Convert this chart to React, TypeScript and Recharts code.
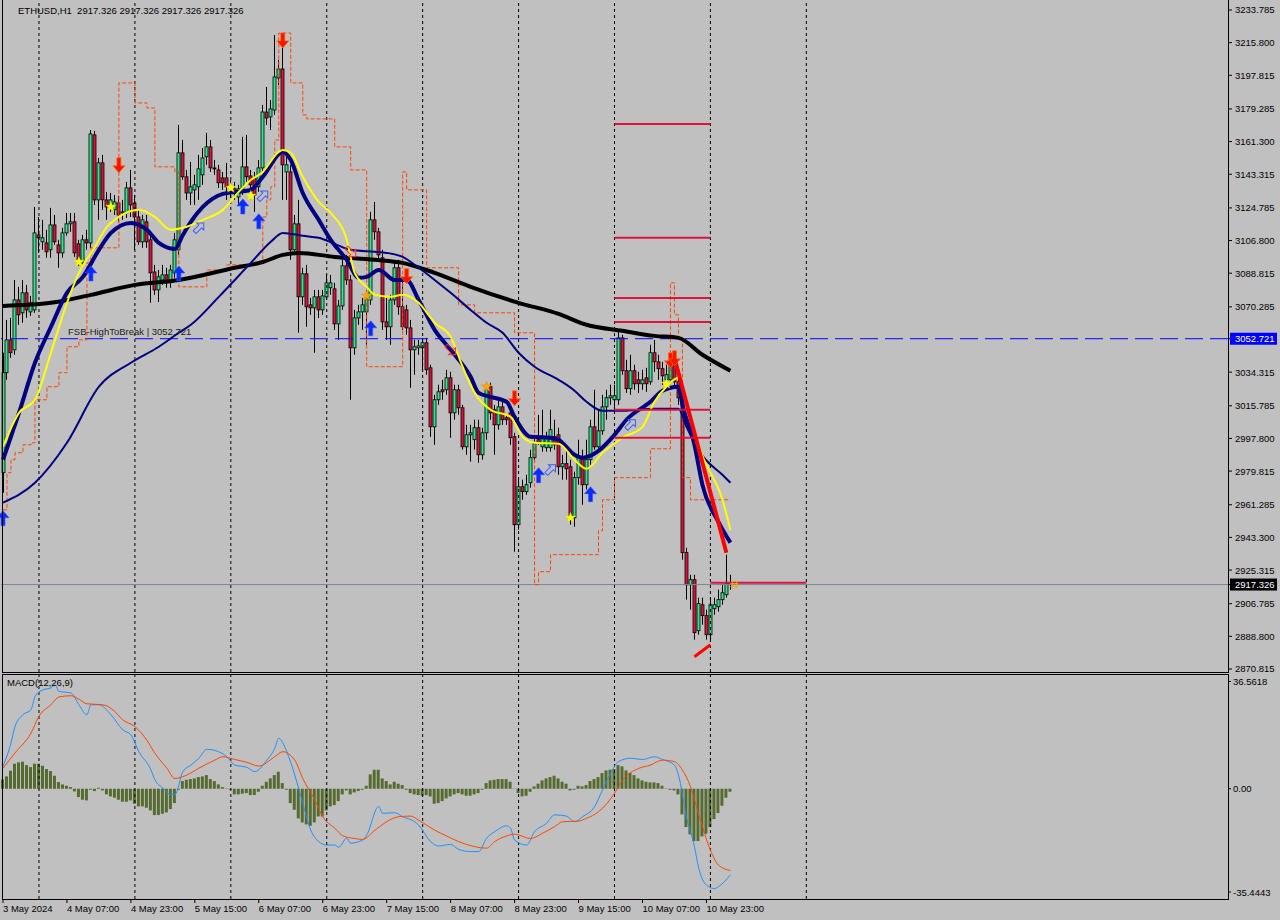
import React from 'react';
import { ComposedChart, Bar, Line, XAxis, YAxis, ReferenceLine } from 'recharts';

type Pt = [number, number];

const FONT = '"Liberation Sans", Arial, sans-serif';
const SLOTS = 307;

// ---------- candles (H1, bar 0 = 3 May 15:00) ----------
const opens = [
  2978.9, 3034.0, 3052.1, 3046.6, 3074.1, 3067.0, 3078.0, 3067.5, 3068.6, 3109.9,
  3106.1, 3105.5, 3101.7, 3115.4, 3104.4, 3100.0, 3111.0, 3116.0, 3117.1, 3105.0,
  3094.5, 3107.2, 3105.5, 3165.0, 3129.2, 3149.6, 3129.2, 3126.4, 3123.7, 3127.5,
  3122.0, 3122.0, 3135.8, 3127.5, 3119.8, 3106.1, 3117.1, 3107.2, 3089.5, 3079.6,
  3085.1, 3087.9, 3084.0, 3089.0, 3101.7, 3155.1, 3141.9, 3133.0, 3134.7, 3136.4,
  3143.0, 3152.9, 3158.4, 3146.8, 3145.7, 3141.3, 3141.3, 3133.6, 3135.3, 3130.8,
  3134.7, 3147.4, 3142.4, 3141.3, 3136.4, 3146.8, 3177.6, 3174.9, 3178.7, 3196.4,
  3201.3, 3144.6, 3144.6, 3101.7, 3116.0, 3075.8, 3088.5, 3071.4, 3069.7, 3075.8,
  3068.6, 3075.8, 3080.8, 3080.2, 3060.9, 3070.8, 3092.9, 3085.1, 3047.7, 3064.2,
  3067.5, 3067.5, 3074.1, 3118.2, 3111.6, 3097.3, 3062.0, 3059.3, 3074.1, 3091.8,
  3070.3, 3068.6, 3058.7, 3046.6, 3047.7, 3047.7, 3050.5, 3036.7, 3004.2, 3019.1,
  3024.6, 3024.6, 3031.2, 3011.9, 3024.6, 3014.7, 2993.2, 2999.8, 2997.1, 3003.7,
  2988.8, 3000.9, 3026.3, 3013.6, 3005.3, 3015.2, 3009.2, 3011.9, 2998.7, 2950.3,
  2971.2, 2968.5, 2973.4, 2987.2, 2997.1, 2993.2, 2992.7, 2992.7, 2998.7, 2999.8,
  2982.2, 2983.9, 2982.2, 2954.1, 2976.2, 2987.2, 2972.3, 2986.1, 3004.2, 2993.2,
  3002.0, 3015.2, 3020.2, 3019.1, 3019.1, 3053.2, 3035.1, 3025.2, 3035.1, 3030.1,
  3027.9, 3031.2, 3029.0, 3045.0, 3040.0, 3036.2, 3030.1, 3030.1, 3040.0, 3029.0,
  3020.2, 2934.9, 2917.2, 2920.0, 2891.9, 2906.2, 2900.2, 2889.7, 2904.0, 2905.1,
  2909.0, 2911.7, 2917.8,
];
const highs = [
  3045.0, 3063.1, 3064.2, 3085.1, 3081.3, 3085.1, 3082.4, 3076.3, 3125.3, 3119.8,
  3118.2, 3112.7, 3124.8, 3120.9, 3107.2, 3113.8, 3122.0, 3122.0, 3122.0, 3107.2,
  3109.9, 3112.7, 3167.7, 3167.2, 3152.3, 3154.0, 3133.6, 3133.0, 3131.9, 3131.4,
  3129.2, 3139.1, 3145.7, 3131.9, 3123.7, 3120.9, 3120.9, 3109.9, 3093.4, 3090.6,
  3093.4, 3091.8, 3093.4, 3111.0, 3170.5, 3162.2, 3145.7, 3150.1, 3143.0, 3154.0,
  3157.8, 3166.1, 3162.2, 3151.2, 3148.5, 3144.6, 3149.6, 3140.2, 3139.1, 3137.5,
  3163.9, 3165.0, 3145.7, 3144.6, 3151.2, 3181.5, 3191.4, 3184.2, 3220.0, 3206.3,
  3218.4, 3156.7, 3148.5, 3120.9, 3129.2, 3091.8, 3093.4, 3075.2, 3079.6, 3079.6,
  3079.6, 3087.9, 3087.9, 3083.5, 3074.1, 3096.2, 3098.9, 3087.9, 3068.6, 3071.4,
  3075.2, 3079.6, 3122.6, 3128.1, 3113.8, 3101.7, 3075.2, 3076.9, 3095.0, 3096.2,
  3085.1, 3071.4, 3063.1, 3052.1, 3052.1, 3053.2, 3053.2, 3038.4, 3021.8, 3027.4,
  3030.1, 3035.6, 3034.5, 3027.4, 3027.4, 3016.3, 3005.3, 3005.3, 3008.1, 3008.1,
  3003.7, 3028.5, 3028.5, 3016.3, 3019.1, 3019.1, 3010.8, 3014.7, 3000.9, 2975.1,
  2975.1, 2977.8, 2991.6, 2999.8, 3010.8, 3013.6, 3001.5, 3013.6, 3008.1, 3003.7,
  2988.8, 2991.6, 2986.1, 2979.5, 2997.1, 2991.6, 2997.1, 3008.1, 3024.6, 3013.6,
  3021.8, 3024.6, 3027.4, 3027.4, 3057.6, 3054.9, 3041.1, 3043.9, 3038.4, 3034.5,
  3035.6, 3036.7, 3049.4, 3052.1, 3043.9, 3040.0, 3038.4, 3041.1, 3043.9, 3032.9,
  3021.8, 2937.6, 2922.7, 2922.7, 2910.1, 2910.1, 2903.5, 2910.1, 2910.1, 2914.5,
  2917.2, 2933.8, 2922.7,
];
const lows = [
  2967.9, 3030.1, 3042.2, 3043.9, 3060.4, 3061.5, 3064.2, 3065.3, 3067.0, 3100.0,
  3101.7, 3097.3, 3097.3, 3104.4, 3091.8, 3097.3, 3109.4, 3111.6, 3097.8, 3092.9,
  3093.4, 3101.7, 3102.8, 3126.4, 3118.2, 3123.7, 3118.2, 3122.6, 3120.9, 3117.1,
  3118.2, 3119.3, 3119.8, 3101.7, 3104.4, 3102.8, 3102.8, 3072.5, 3076.9, 3073.0,
  3082.4, 3080.8, 3080.8, 3086.3, 3098.9, 3140.2, 3129.2, 3126.4, 3126.4, 3129.2,
  3137.5, 3148.5, 3144.6, 3143.0, 3135.8, 3134.7, 3129.2, 3130.3, 3129.2, 3126.4,
  3131.9, 3139.1, 3133.6, 3122.6, 3133.6, 3144.6, 3170.5, 3167.7, 3176.0, 3192.5,
  3129.2, 3129.2, 3096.2, 3098.9, 3056.0, 3071.4, 3059.3, 3065.9, 3045.0, 3064.2,
  3065.9, 3074.1, 3076.9, 3057.6, 3052.1, 3068.6, 3082.4, 3019.1, 3043.9, 3060.4,
  3057.6, 3049.4, 3071.4, 3107.2, 3095.0, 3057.6, 3052.1, 3049.4, 3071.4, 3065.9,
  3057.6, 3054.9, 3025.7, 3032.9, 3043.9, 3035.6, 3032.9, 2998.7, 2994.3, 3016.3,
  3019.1, 3021.8, 2998.2, 3008.1, 3010.8, 2991.6, 2988.8, 2985.0, 2991.6, 2984.4,
  2986.1, 2997.1, 3008.1, 2988.8, 3002.6, 3005.3, 3005.3, 2994.3, 2935.4, 2947.5,
  2964.0, 2966.8, 2970.7, 2985.0, 2994.3, 2990.5, 2990.5, 2990.5, 2991.6, 2977.8,
  2975.1, 2975.1, 2950.3, 2949.2, 2972.3, 2961.3, 2969.6, 2983.3, 2991.6, 2990.5,
  2999.8, 3008.1, 3016.3, 3013.6, 3016.3, 3032.9, 3022.9, 3021.8, 3024.6, 3022.9,
  3024.6, 3023.5, 3027.4, 3034.5, 3030.1, 3027.4, 3027.4, 3028.5, 3025.7, 3016.3,
  2931.0, 2909.0, 2903.5, 2887.0, 2889.7, 2895.2, 2887.0, 2887.0, 2900.7, 2902.4,
  2906.2, 2910.1, 2914.5,
];
const closes = [
  3034.0, 3052.1, 3045.0, 3074.1, 3065.9, 3078.0, 3068.6, 3072.5, 3111.0, 3108.3,
  3108.3, 3100.6, 3115.4, 3106.1, 3100.0, 3111.0, 3116.0, 3117.1, 3100.0, 3095.0,
  3107.2, 3105.5, 3165.5, 3129.2, 3149.6, 3129.2, 3125.3, 3129.2, 3128.1, 3120.9,
  3122.6, 3135.8, 3126.4, 3119.8, 3106.1, 3118.2, 3106.1, 3089.0, 3079.6, 3086.8,
  3087.9, 3083.5, 3090.6, 3107.2, 3155.1, 3141.9, 3133.0, 3136.4, 3137.5, 3146.3,
  3152.3, 3158.4, 3146.8, 3146.3, 3138.6, 3138.6, 3136.4, 3135.8, 3133.0, 3135.3,
  3147.4, 3141.9, 3137.5, 3131.9, 3146.8, 3177.6, 3174.3, 3179.3, 3196.9, 3201.3,
  3148.5, 3148.5, 3101.7, 3116.0, 3075.8, 3088.5, 3070.3, 3069.7, 3075.8, 3068.6,
  3076.3, 3083.5, 3083.5, 3060.9, 3070.8, 3092.9, 3085.1, 3047.7, 3064.2, 3067.5,
  3071.4, 3075.2, 3118.2, 3111.6, 3098.9, 3062.0, 3059.3, 3074.1, 3091.8, 3070.3,
  3059.3, 3058.7, 3046.6, 3048.3, 3048.8, 3050.5, 3035.6, 3004.2, 3019.1, 3023.5,
  3023.5, 3031.2, 3011.9, 3024.6, 3014.7, 2993.2, 2999.8, 3000.9, 3003.7, 2988.8,
  3000.9, 3025.7, 3011.9, 3005.3, 3015.2, 3008.1, 3008.1, 2998.2, 2950.3, 2971.2,
  2968.5, 2972.3, 2987.2, 2995.4, 2995.4, 2998.7, 2998.2, 3002.6, 2994.3, 2982.2,
  2983.9, 2981.1, 2954.1, 2976.2, 2987.2, 2972.3, 2986.1, 3004.2, 2993.2, 3002.0,
  3015.2, 3020.2, 3021.3, 3021.3, 3053.2, 3035.1, 3025.2, 3035.1, 3027.9, 3027.9,
  3030.1, 3027.9, 3045.0, 3040.0, 3036.2, 3032.3, 3032.9, 3037.3, 3029.0, 3020.2,
  2934.9, 2917.2, 2920.0, 2890.8, 2906.8, 2900.2, 2889.7, 2906.2, 2906.2, 2909.0,
  2912.8, 2917.8, 2917.326,
];

// ---------- moving averages read at sample bars [bar, price] ----------
const slowBlackMa: Pt[] = [
  [0, 3070.8], [12, 3072.5], [22, 3076.9], [33, 3082.4], [44, 3085.1], [58, 3091.8], [65, 3095.0],
  [70, 3098.9], [74, 3100.0], [83, 3097.8], [93, 3096.2], [100, 3094.5], [108, 3089.0], [117, 3081.3],
  [129, 3072.5], [139, 3066.4], [146, 3060.4], [155, 3057.1], [163, 3054.3], [169, 3053.2],
  [175, 3043.9], [182, 3035.1],
];
const fastNavyMa: Pt[] = [
  [0, 2986.1], [4, 3011.9], [8, 3039.5], [12, 3059.3], [16, 3078.0], [20, 3086.8], [24, 3101.7],
  [27, 3111.0], [32, 3116.5], [36, 3112.7], [39, 3105.5], [43, 3102.2], [45, 3109.9], [47, 3117.1],
  [50, 3125.3], [55, 3132.5], [62, 3134.7], [65, 3141.9], [70, 3155.6], [72, 3151.2], [75, 3133.0],
  [79, 3118.2], [82, 3107.2], [86, 3096.2], [89, 3086.3], [91, 3086.8], [94, 3090.6], [98, 3085.1],
  [101, 3085.1], [104, 3074.1], [108, 3057.6], [112, 3046.6], [117, 3031.8], [119, 3022.9],
  [122, 3020.7], [126, 3018.0], [128, 3009.7], [132, 2998.7], [137, 2998.2], [139, 2997.1],
  [143, 2988.8], [145, 2987.2], [149, 2991.0], [153, 2999.8], [156, 3008.1], [162, 3018.0],
  [165, 3024.1], [169, 3026.3], [170, 3016.3], [173, 2994.3], [175, 2972.3], [179, 2951.9],
  [182, 2940.4],
];
const midNavyMa: Pt[] = [
  [0, 2962.4], [8, 2973.4], [16, 2995.4], [24, 3026.3], [32, 3039.5], [39, 3048.3], [44, 3056.0],
  [47, 3060.4], [54, 3075.8], [62, 3094.5], [67, 3106.1], [70, 3111.0], [75, 3109.4], [79, 3108.3],
  [83, 3105.0], [87, 3101.7], [93, 3100.6], [96, 3100.0], [100, 3097.8], [104, 3091.8], [108, 3085.1],
  [112, 3078.0], [117, 3068.6], [121, 3061.5], [125, 3056.0], [129, 3045.0], [133, 3037.3],
  [139, 3030.1], [143, 3024.1], [146, 3018.0], [150, 3013.0], [155, 3013.0], [163, 3014.1],
  [169, 3014.1], [171, 3004.2], [175, 2988.3], [180, 2977.8], [182, 2973.4],
];
const yellowMa: Pt[] = [
  [0, 2993.2], [4, 3011.9], [8, 3019.1], [12, 3045.0], [16, 3072.5], [19, 3089.0], [23, 3103.3],
  [26, 3114.3], [29, 3119.8], [34, 3123.7], [38, 3119.8], [42, 3112.7], [45, 3113.8], [50, 3118.2],
  [55, 3123.7], [59, 3133.6], [62, 3140.2], [65, 3144.6], [69, 3155.6], [70, 3156.7], [72, 3155.1],
  [75, 3141.9], [79, 3128.1], [82, 3122.0], [86, 3107.2], [88, 3089.0], [91, 3081.3], [93, 3076.9],
  [97, 3075.8], [100, 3076.9], [104, 3072.5], [108, 3061.5], [112, 3053.8], [115, 3037.3],
  [118, 3022.9], [122, 3013.6], [127, 3009.7], [130, 2998.7], [133, 2995.4], [139, 2994.9],
  [143, 2986.1], [146, 2981.1], [150, 2989.9], [155, 2998.2], [160, 3004.2], [163, 3018.0],
  [166, 3026.3], [169, 3031.2], [171, 3016.3], [175, 2988.3], [180, 2964.0], [182, 2947.5],
];
// trailing stop (dashed step line): value from this bar on
const trailingStop: Pt[] = [
  [0, 2958.5], [1, 2978.9], [2, 2986.1], [3, 2989.9], [5, 2994.3], [7, 2995.4], [8, 3019.1],
  [11, 3026.3], [14, 3034.0], [16, 3048.3], [19, 3052.1], [21, 3094.5], [22, 3102.8], [29, 3193.6],
  [33, 3182.6], [36, 3179.8], [38, 3147.4], [43, 3144.6], [44, 3081.3], [51, 3090.6], [56, 3093.4],
  [64, 3094.5], [65, 3119.8], [66, 3129.2], [67, 3136.4], [68, 3162.2], [69, 3221.1], [72, 3193.6],
  [75, 3176.0], [76, 3173.8], [83, 3158.4], [87, 3145.7], [91, 3037.3], [100, 3144.6], [101, 3134.7],
  [106, 3091.8], [114, 3071.4], [118, 3067.0], [128, 3056.0], [133, 2917.2], [134, 2924.4],
  [137, 2933.8], [149, 2947.0], [150, 2964.0], [153, 2976.2], [162, 2992.1], [167, 3083.5],
  [168, 3065.9], [169, 3053.2], [170, 2976.2], [172, 2964.0], [182, 2964.0],
];

// ---------- signal markers [bar, price] ----------
const redDownArrows: Pt[] = [[29, 3147.4], [70, 3216.2], [101, 3086.3], [128, 3019.1], [167, 3040.0], [168, 3041.1]];
const blueUpArrows: Pt[] = [[0, 2954.7], [22, 3089.5], [44, 3089.5], [60, 3126.4], [64, 3118.2], [92, 3059.3], [134, 2978.4], [147, 2967.9]];
const yellowStars: Pt[] = [[19, 3095.0], [27, 3125.3], [57, 3135.8], [62, 3131.4], [142, 2954.1], [166, 3027.9]];
const orangeStars: Pt[] = [[91, 3076.3], [121, 3026.3]];
const hollowBlueArrows: Pt[] = [[49, 3113.8], [65, 3131.4], [137, 2980.6], [157, 3005.4]];
const hollowRedArrows: Pt[] = [[87, 3100.6], [112, 3046.6]];
const orangeMarks: Pt[] = [[183, 2917.3]];

// ---------- horizontal levels / lines ----------
const highToBreak = 3052.721;
const lastPrice = 2917.326;
const breakoutLevels = [3171.0, 3108.3, 3075.2, 3062.0, 3013.6, 2998.2];
const levelFromBar = 153;
const levelToBar = 177;
const targetLevel = 2918.3;
const targetToBar = 201;
const trendStart: Pt = [168, 3042.2];
const trendEnd: Pt = [181, 2934.9];
const lowStart: Pt = [173, 2877.6];
const lowEnd: Pt = [177, 2884.2];
const daySeparators = [9, 33, 57, 81, 105, 129, 153, 177, 201];

// ---------- axis ticks ----------
const priceTicks = [
  3233.785, 3215.8, 3197.815, 3179.285, 3161.3, 3143.315, 3124.785, 3106.8, 3088.815, 3070.285,
  3052.721, 3034.315, 3015.785, 2997.8, 2979.815, 2961.285, 2943.3, 2925.315, 2917.326, 2906.785,
  2888.8, 2870.815,
];
const priceDomain = [2869.16, 3237.64];
const macdTicks = [36.5618, 0, -35.4443];
const macdDomain = [-35.4443, 36.5618];
const xTickBars = [0, 16, 32, 48, 64, 80, 96, 112, 128, 144, 160, 176];
const xTickLabels = [
  '3 May 2024', '4 May 07:00', '4 May 23:00', '5 May 15:00', '6 May 07:00', '6 May 23:00',
  '7 May 15:00', '8 May 07:00', '8 May 23:00', '9 May 15:00', '10 May 07:00', '10 May 23:00',
];

// ---------- MACD(12,26,9) ----------
const macdHist = [
  3.0,
  3.97, 5.79, 8.04, 8.47, 8.68, 7.61, 6.97, 8.04, 8.04, 7.40,
  6.32, 5.68, 4.18, 2.14, 1.39, 0.96, 0.54, -0.86, -2.68, -3.54,
  -3.75, -0.32, -0.75, 0.32, -0.54, -1.82, -2.47, -2.89, -3.54, -4.18,
  -4.18, -3.75, -4.82, -5.68, -5.68, -6.11, -6.97, -8.47, -8.47, -8.04,
  -7.61, -6.54, -4.61, -0.32, 2.47, 2.89, 3.11, 3.32, 3.75, 3.97,
  4.39, 3.11, 2.47, 1.39, 0.54, 0.11, -0.32, -1.82, -1.82, -1.61,
  -1.39, -2.04, -2.04, -0.96, 0.96, 2.25, 3.32, 4.39, 5.47, 1.82,
  -0.32, -4.61, -6.75, -9.54, -10.83, -11.47, -11.9, -10.83, -8.9, -8.9,
  -6.97, -5.68, -5.25, -3.97, -1.82, -0.54, -1.82, -1.18, -0.75, -0.32,
  0.96, 4.61, 6.11, 6.11, 3.32, 2.47, 1.39, 2.25, 1.61, 1.18,
  -0.32, -1.39, -1.82, -2.04,
  -2.25, -2.04, -2.47, -4.82, -4.61, -3.97, -3.11, -2.47, -1.82, -1.39,
  -1.82, -2.25, -2.25, -1.82, -1.39, -0.32, 1.82, 2.68, 2.89, 3.11,
  3.11, 3.11, 2.25, -0.11, -1.39, -2.47, -2.25, -0.96, 0.75, 1.61,
  2.68, 3.32, 3.75, 4.18, 3.32, 2.25, 1.61, -0.54, -0.32, 0.96,
  0.75, 1.18, 2.47, 3.11, 3.75, 5.04, 5.89, 6.11, 6.32, 7.61,
  7.18, 5.89, 5.04, 4.39, 3.32, 2.68, 2.25, 2.04, 2.04, 1.82,
  0.96, 0.11, -0.32, -0.54, -1.82, -8.25, -12.33, -14.68, -16.83, -16.83,
  -15.33, -14.47, -12.33, -9.75, -7.82, -5.47, -2.89, -0.96,
];
const macdLine: Pt[] = [
  [0, 7.2], [2, 14.7], [3, 20.0], [5, 23.8], [7, 25.4], [8, 29.6], [10, 31.8], [12, 32.4], [13, 33.4],
  [14, 31.3], [17, 30.8], [19, 27.0], [21, 23.8], [22, 27.0], [24, 27.0], [27, 23.8], [30, 18.9],
  [32, 17.3], [34, 11.9], [37, 6.1], [38, 2.9], [40, 0.2], [42, -1.9], [43, -1.9], [45, 5.5], [47, 7.6],
  [49, 9.8], [51, 12.7], [53, 12.3], [56, 10.3], [58, 7.6], [61, 6.9], [63, 5.5], [66, 9.2], [68, 13.0],
  [69, 16.2], [71, 11.9], [73, 4.4], [75, -4.7], [77, -13.3], [79, -17.0], [81, -18.1], [83, -18.1],
  [84, -18.8], [86, -15.9], [87, -17.5], [90, -16.5], [91, -14.9], [94, -5.7], [95, -7.9], [98, -7.7],
  [100, -9.0], [103, -10.6], [104, -11.7], [107, -17.0], [109, -18.4], [112, -17.9], [114, -19.5],
  [117, -20.2], [119, -20.2], [121, -15.9], [123, -13.8], [126, -11.9], [127, -12.7], [128, -16.5],
  [131, -18.1], [133, -13.8], [136, -11.1], [138, -8.4], [141, -8.8], [143, -10.6], [145, -9.0],
  [148, -5.8], [150, -0.4], [152, 4.9], [154, 8.7], [157, 9.8], [160, 9.4], [163, 10.3], [165, 9.4],
  [168, 7.6], [169, 4.4], [171, -9.0], [173, -18.6], [174, -25.1], [176, -31.0], [178, -32.1],
  [179, -31.5], [182, -27.7],
];
const signalLine: Pt[] = [
  [0, 6.6], [3, 11.5], [7, 17.9], [9, 23.3], [12, 27.0], [14, 29.5], [17, 29.9], [19, 28.8], [21, 27.3],
  [25, 27.0], [28, 24.8], [30, 22.1], [33, 20.0], [36, 15.6], [38, 11.4], [41, 6.6], [43, 3.3], [46, 4.4],
  [49, 6.6], [53, 9.2], [55, 10.3], [58, 9.4], [61, 8.5], [64, 7.3], [68, 10.3], [70, 11.9], [73, 9.2],
  [75, 3.3], [78, -3.6], [80, -9.0], [83, -12.7], [85, -15.1], [88, -16.0], [90, -16.3], [93, -13.4],
  [96, -10.6], [99, -9.0], [102, -8.8], [104, -10.1], [108, -13.3], [111, -15.2], [114, -17.0],
  [118, -18.6], [121, -19.1], [123, -17.0], [126, -15.2], [128, -14.6], [132, -16.0], [135, -14.3],
  [138, -12.2], [140, -10.6], [144, -10.4], [146, -9.5], [149, -7.4], [153, -1.5], [155, 2.8],
  [159, 6.5], [162, 7.6], [165, 9.2], [168, 8.7], [170, 6.0], [172, 0.7], [174, -7.9], [177, -19.7],
  [179, -24.5], [182, -26.3],
];

// ---------- tables ----------
const toMap = (pts: Pt[]) => new Map<number, number>(pts);
const mBlack = toMap(slowBlackMa);
const mFast = toMap(fastNavyMa);
const mMid = toMap(midNavyMa);
const mYellow = toMap(yellowMa);
const mStop = toMap(trailingStop);
const mRed = toMap(redDownArrows);
const mBlue = toMap(blueUpArrows);
const mStar = toMap(yellowStars);
const mOStar = toMap(orangeStars);
const mHB = toMap(hollowBlueArrows);
const mHR = toMap(hollowRedArrows);
const mOM = toMap(orangeMarks);
const mMacd = toMap(macdLine);
const mSig = toMap(signalLine);

const mainData = Array.from({ length: SLOTS }, (_, i) => {
  const row: Record<string, any> = { i };
  if (i < closes.length) {
    row.range = [lows[i], highs[i]];
    row.o = opens[i];
    row.h = highs[i];
    row.l = lows[i];
    row.c = closes[i];
  }
  row.black = mBlack.get(i) ?? null;
  row.fast = mFast.get(i) ?? null;
  row.mid = mMid.get(i) ?? null;
  row.yellow = mYellow.get(i) ?? null;
  row.stop = mStop.get(i) ?? null;
  row.redDown = mRed.get(i) ?? null;
  row.blueUp = mBlue.get(i) ?? null;
  row.star = mStar.get(i) ?? null;
  row.ostar = mOStar.get(i) ?? null;
  row.hblue = mHB.get(i) ?? null;
  row.hred = mHR.get(i) ?? null;
  row.omark = mOM.get(i) ?? null;
  return row;
});

const macdData = Array.from({ length: SLOTS }, (_, i) => ({
  i,
  hist: i < macdHist.length ? macdHist[i] : null,
  macd: mMacd.get(i) ?? null,
  signal: mSig.get(i) ?? null,
}));

// ---------- shapes ----------
const Candle = (props: any) => {
  const { x, y, width, height, payload } = props;
  if (!payload || payload.o == null || y == null || height == null || isNaN(y)) return <g />;
  const top = Math.min(y, y + height);
  const bot = Math.max(y, y + height);
  const span = payload.h - payload.l;
  const k = span > 0 ? (bot - top) / span : 0;
  const yO = top + (payload.h - payload.o) * k;
  const yC = top + (payload.h - payload.c) * k;
  const cx = Math.round(x + width / 2) + 0.5;
  const bull = payload.c >= payload.o;
  const bTop = Math.min(yO, yC);
  const bH = Math.max(1, Math.abs(yC - yO));
  return (
    <g>
      <line x1={cx} x2={cx} y1={top} y2={bot} stroke="#000" strokeWidth={1} />
      <rect x={cx - 1.5} y={bTop} width={3} height={bH} fill={bull ? '#2ee58a' : '#dc143c'} stroke="#000" strokeWidth={0.8} />
    </g>
  );
};

const starPath = (cx: number, cy: number, r: number) => {
  let d = '';
  for (let k = 0; k < 10; k++) {
    const rr = k % 2 === 0 ? r : r * 0.42;
    const a = -Math.PI / 2 + (k * Math.PI) / 5;
    d += `${k === 0 ? 'M' : 'L'}${(cx + rr * Math.cos(a)).toFixed(2)},${(cy + rr * Math.sin(a)).toFixed(2)}`;
  }
  return d + 'Z';
};

const makeDot = (kind: string) => (props: any) => {
  const { cx, cy, value, index } = props;
  const key = `${kind}-${index}`;
  if (value == null || cx == null || cy == null || isNaN(cy)) return <g key={key} />;
  if (kind === 'redDown') {
    return (
      <path key={key}
        d={`M${cx - 2},${cy - 9} L${cx + 2},${cy - 9} L${cx + 2},${cy - 1} L${cx + 6},${cy - 1} L${cx},${cy + 6} L${cx - 6},${cy - 1} L${cx - 2},${cy - 1} Z`}
        fill="#ff1000" stroke="#ff6a00" strokeWidth={0.8} />
    );
  }
  if (kind === 'blueUp') {
    return (
      <path key={key}
        d={`M${cx - 2},${cy + 9} L${cx + 2},${cy + 9} L${cx + 2},${cy + 1} L${cx + 6},${cy + 1} L${cx},${cy - 6} L${cx - 6},${cy + 1} L${cx - 2},${cy + 1} Z`}
        fill="#0a2cff" stroke="#3050ff" strokeWidth={0.6} />
    );
  }
  if (kind === 'star') return <path key={key} d={starPath(cx, cy, 5.5)} fill="#ffff00" stroke="#d8d800" strokeWidth={0.4} />;
  if (kind === 'ostar') return <path key={key} d={starPath(cx, cy, 5.5)} fill="#ffa500" stroke="#e08000" strokeWidth={0.4} />;
  if (kind === 'hblue' || kind === 'hred') {
    const rot = kind === 'hblue' ? 45 : 135;
    return (
      <polygon key={key} transform={`translate(${cx},${cy}) rotate(${rot})`}
        points="0,-7 5,-2 2,-2 2,6 -2,6 -2,-2 -5,-2"
        fill="none" stroke={kind === 'hblue' ? '#3a5cff' : '#ff3030'} strokeWidth={1} />
    );
  }
  if (kind === 'omark') {
    return (
      <g key={key} stroke="#ffa500" strokeWidth={1}>
        <line x1={cx - 2} x2={cx - 2} y1={cy - 4} y2={cy + 4} />
        <line x1={cx + 2} x2={cx + 2} y1={cy - 4} y2={cy + 4} />
        <line x1={cx - 4} x2={cx + 4} y1={cy - 1} y2={cy - 1} />
        <line x1={cx - 4} x2={cx + 4} y1={cy + 2} y2={cy + 2} />
      </g>
    );
  }
  return <g key={key} />;
};

const PriceTick = (props: any) => {
  const { y, payload } = props;
  const v = payload.value as number;
  const label = v.toFixed(3);
  const special = v === highToBreak ? '#0000ff' : v === lastPrice ? '#000000' : null;
  return (
    <g>
      <line x1={1228} x2={1232} y1={y} y2={y} stroke="#000" />
      {special && <rect x={1230} y={y - 6} width={47} height={12} fill={special} />}
      <text x={1235} y={y + 3.5} fontSize={9.5} fontFamily={FONT} fill={special ? '#ffffff' : '#000'}>{label}</text>
    </g>
  );
};

const MacdTick = (props: any) => {
  const { y, payload } = props;
  const v = payload.value as number;
  const label = v === 0 ? '0.00' : String(v);
  const ty = v === macdTicks[0] ? y + 6.5 : v === macdTicks[2] ? y - 7 : y;
  return (
    <g>
      <line x1={1228} x2={1231} y1={ty} y2={ty} stroke="#000" />
      <text x={1233} y={ty + 3.5} fontSize={9.5} fontFamily={FONT} fill="#000">{label}</text>
    </g>
  );
};

const TimeTick = (props: any) => {
  const { x, payload } = props;
  const idx = xTickBars.indexOf(Number(payload.value));
  if (idx < 0) return <g />;
  return (
    <g>
      <line x1={x} x2={x} y1={228} y2={231} stroke="#000" />
      <text x={x} y={240} fontSize={9.5} fontFamily={FONT} fill="#000">{xTickLabels[idx]}</text>
    </g>
  );
};

const textStyle: React.CSSProperties = {
  position: 'absolute', fontFamily: FONT, fontSize: 9.5, lineHeight: '12px', color: '#000', whiteSpace: 'pre',
};

export default function App() {
  return (
    <div style={{ position: 'absolute', left: 0, top: 0, width: 1280, height: 920, background: '#c0c0c0', overflow: 'hidden' }}>
      <div style={{ position: 'absolute', left: 0, top: 0 }}>
        <ComposedChart width={1280} height={675} data={mainData} margin={{ top: 3, right: 0, bottom: 3, left: 1 }}>
          <XAxis dataKey="i" type="category" hide />
          <YAxis orientation="right" type="number" domain={priceDomain} allowDataOverflow ticks={priceTicks}
            interval={0} tick={PriceTick} tickLine={false} axisLine={false} width={52} />
          {daySeparators.map((b) => (
            <ReferenceLine key={`d${b}`} x={b} stroke="#000" strokeDasharray="3 3" strokeWidth={1} />
          ))}
          <ReferenceLine y={lastPrice} stroke="#778899" strokeWidth={1} />
          <ReferenceLine y={highToBreak} stroke="#0000ff" strokeDasharray="18 7" strokeWidth={1} />
          <Line dataKey="stop" type="stepAfter" stroke="#ff4500" strokeWidth={1} strokeDasharray="4 2"
            dot={false} activeDot={false} connectNulls isAnimationActive={false} />
          <Bar dataKey="range" barSize={3} shape={Candle} isAnimationActive={false} />
          <Line dataKey="black" type="monotone" stroke="#000000" strokeWidth={4} dot={false} activeDot={false} connectNulls isAnimationActive={false} />
          <Line dataKey="mid" type="monotone" stroke="#000080" strokeWidth={2} dot={false} activeDot={false} connectNulls isAnimationActive={false} />
          <Line dataKey="fast" type="monotone" stroke="#000080" strokeWidth={4} dot={false} activeDot={false} connectNulls isAnimationActive={false} />
          <Line dataKey="yellow" type="monotone" stroke="#ffff00" strokeWidth={2} dot={false} activeDot={false} connectNulls isAnimationActive={false} />
          {breakoutLevels.map((lv) => (
            <ReferenceLine key={`l${lv}`} segment={[{ x: levelFromBar, y: lv }, { x: levelToBar, y: lv }]} stroke="#dc143c" strokeWidth={2} />
          ))}
          <ReferenceLine segment={[{ x: levelToBar, y: targetLevel }, { x: targetToBar, y: targetLevel }]} stroke="#dc143c" strokeWidth={2} />
          <ReferenceLine segment={[{ x: trendStart[0], y: trendStart[1] }, { x: trendEnd[0], y: trendEnd[1] }]} stroke="#ff0000" strokeWidth={4} />
          <ReferenceLine segment={[{ x: lowStart[0], y: lowStart[1] }, { x: lowEnd[0], y: lowEnd[1] }]} stroke="#ff0000" strokeWidth={3} />
          {['redDown', 'blueUp', 'star', 'ostar', 'hblue', 'hred', 'omark'].map((k) => (
            <Line key={k} dataKey={k} stroke="none" dot={makeDot(k)} activeDot={false} isAnimationActive={false} legendType="none" />
          ))}
        </ComposedChart>
      </div>
      <div style={{ position: 'absolute', left: 0, top: 672 }}>
        <ComposedChart width={1280} height={248} data={macdData} margin={{ top: 3, right: 0, bottom: 0, left: 1 }}>
          <XAxis dataKey="i" type="category" interval={15} tick={TimeTick} tickLine={false} axisLine={false} height={21} />
          <YAxis orientation="right" type="number" domain={macdDomain} allowDataOverflow ticks={macdTicks}
            interval={0} tick={MacdTick} tickLine={false} axisLine={false} width={52} />
          {daySeparators.map((b) => (
            <ReferenceLine key={`m${b}`} x={b} stroke="#000" strokeDasharray="3 3" strokeWidth={1} />
          ))}
          <Bar dataKey="hist" fill="#556b2f" barSize={3} isAnimationActive={false} />
          <Line dataKey="macd" type="monotone" stroke="#1e90ff" strokeWidth={1} dot={false} activeDot={false} connectNulls isAnimationActive={false} />
          <Line dataKey="signal" type="monotone" stroke="#ff4500" strokeWidth={1} dot={false} activeDot={false} connectNulls isAnimationActive={false} />
        </ComposedChart>
      </div>
      <div style={{ position: 'absolute', left: 2, top: -1, width: 1227, height: 674, border: '1px solid #000', boxSizing: 'border-box', pointerEvents: 'none' }} />
      <div style={{ position: 'absolute', left: 2, top: 674, width: 1227, height: 226, border: '1px solid #000', boxSizing: 'border-box', pointerEvents: 'none' }} />
      <div style={{ ...textStyle, left: 18, top: 5 }}>{'ETHUSD,H1  2917.326 2917.326 2917.326 2917.326'}</div>
      <div style={{ ...textStyle, left: 7, top: 677 }}>{'MACD(12,26,9)'}</div>
      <div style={{ ...textStyle, left: 68, top: 326, color: '#202020' }}>{`FSB-HighToBreak | ${highToBreak}`}</div>
    </div>
  );
}
